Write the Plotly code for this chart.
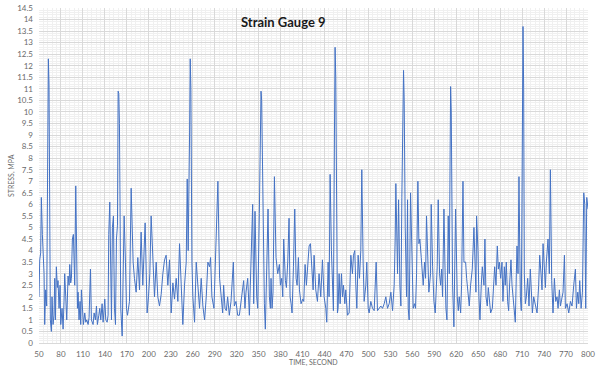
import plotly.graph_objects as go

# ---- data (time in seconds, stress in MPa) ----
time_s = [
    50, 51.0, 52.3, 53.2, 54.6, 55.5, 56.4, 56.9, 57.8, 59.1, 60.5, 61.9, 62.8, 63.7, 64.6,
    65.5, 66.9, 67.8, 69.2, 70.5, 71.5, 72.4, 73.7, 75.1, 76.0, 77.4, 78.8, 79.7, 81.5, 82.9,
    84.2, 85.1, 86.5, 87.9, 89.7, 91.1, 92.0, 93.3, 94.3, 95.6, 97.0, 98.8, 100.2, 101.6, 102.5,
    103.4, 104.7, 106.1, 107.0, 107.9, 109.3, 110.7, 112.5, 113.9, 115.2, 117.1, 118.4, 120.3,
    121.6, 123.9, 125.3, 127.1, 128.5, 129.8, 131.7, 133.0, 134.4, 136.2, 137.6, 139.9, 141.2,
    143.1, 144.4, 145.3, 146.7, 148.1, 149.0, 150.3, 151.7, 153.1, 154.5, 155.8, 157.2, 158.1,
    159.0, 159.9, 160.8, 161.7, 163.6, 164.9, 166.3, 168.1, 169.5, 170.9,
    173.6, 175.9, 177.2, 178.6, 180.4, 182.7, 185.0, 187.3, 189.5, 191.8, 195.0, 197.7, 199.6,
    201.4, 203.2, 205.5, 207.8, 210.1, 212.3, 214.6, 216.9, 219.2, 221.5, 223.7, 226.0, 228.3,
    230.6, 232.9, 235.1, 237.4, 239.7, 242.0, 244.3, 246.5, 248.8, 251.1, 252.5, 253.8, 255.7,
    256.6, 257.5, 258.9, 260.2, 262.5, 264.8, 267.1, 269.3, 271.6, 273.9, 276.2, 278.5, 280.7,
    283.0, 284.4, 286.2, 289.0, 290.8, 292.1, 294.4, 296.7, 299.0,
    300.9, 302.2, 304.1, 305.9, 307.7, 310.0, 312.3, 315.5, 316.8, 319.1, 321.4, 323.7, 326.0,
    328.2, 329.6, 331.4, 332.8, 335.1, 337.4, 338.7, 340.6, 341.9, 343.3, 345.1, 347.4, 348.8,
    351.0, 352.4, 353.3, 354.2, 355.6, 357.0, 357.9, 359.2, 361.1, 362.9, 364.7, 366.1, 367.0,
    368.4, 369.7, 371.6, 373.8, 376.1, 378.4, 379.8, 381.6, 383.0, 384.3, 385.2, 386.6, 388.0,
    389.8, 391.6, 393.0, 394.4, 395.7, 397.6, 399.4, 401.2, 402.6, 404.4, 405.8, 408.0, 410.3,
    411.7, 413.5, 415.3, 417.2, 419.0, 420.8, 422.6, 424.5,
    425.8, 428.1, 430.4, 432.6, 434.9, 437.2, 439.5, 441.8, 443.1, 445.0, 446.3, 447.7, 449.5,
    450.9, 452.2, 453.6, 454.5, 455.4, 456.4, 457.7, 458.6, 460.0, 461.4, 463.2, 464.6, 465.9,
    467.8, 469.1, 471.4, 473.7, 476.0, 478.2, 479.6, 481.4, 482.8, 484.2, 486.0, 487.8, 489.6,
    491.0, 492.8, 494.2, 496.5, 497.8, 499.7, 501.0, 503.3, 505.6, 507.9, 510.6, 512.4, 514.7,
    517.0, 519.3, 521.6, 523.8, 526.1, 528.4, 530.7, 533.0, 535.2, 536.6, 537.5, 539.8, 541.2,
    543.0, 544.4, 545.7, 547.1, 548.0, 548.9, 550.3, 552.1,
    553.5, 554.4, 555.7, 557.6, 559.8, 561.2, 563.0, 564.4, 565.8, 567.6, 569.0, 570.3, 572.2,
    573.5, 574.9, 576.7, 578.1, 579.4, 581.3, 582.6, 584.9, 585.8, 587.7, 589.5, 591.3, 592.7,
    594.0, 595.4, 597.2, 598.6, 600.0, 601.3, 603.2, 604.5, 605.9, 607.3, 609.1, 610.5, 611.8,
    612.3, 613.2, 614.1, 615.0, 616.8, 619.1, 621.4, 622.8, 624.1, 626.0, 627.3, 629.2, 630.5,
    632.8, 634.2, 636.0, 637.8, 639.6, 641.9, 644.2, 645.6, 646.9, 647.8, 649.7, 651.0, 652.4,
    654.2, 655.6, 657.9, 659.2, 660.6, 662.4, 663.8, 665.6, 667.0, 669.3, 670.6, 672.5, 674.3,
    676.1, 677.5, 678.9, 680.7,
    682.5, 683.8, 685.7, 687.0, 688.4, 690.2, 691.6, 693.0, 694.8, 696.2, 697.5, 699.4, 700.7,
    702.1, 703.0, 704.4, 705.7, 706.6, 707.6, 708.9, 710.3, 711.2, 712.1, 713.0, 714.4, 715.8,
    717.6, 719.4, 721.2, 722.6, 724.0, 725.8, 728.1, 730.4, 732.6, 734.0, 735.8, 737.2, 738.6,
    740.4, 741.8, 743.1, 745.4, 747.2, 748.6, 750.4, 752.2, 754.1, 755.9, 757.7, 759.1, 760.9,
    762.3, 764.1, 765.9, 767.8, 769.1, 771.4, 773.7, 776.0, 778.2, 780.5, 782.8, 784.2, 786.0,
    787.4, 788.7, 790.6, 792.4, 794.2, 795.6, 796.9, 798.3, 800,
]

stress_mpa = [
    2.0, 3.6, 3.9, 6.3, 4.7, 4.0, 4.1, 3.0, 0.8, 2.3, 1.6, 8.0, 12.3, 11.2, 4.0,
    1.0, 0.5, 2.0, 0.8, 1.2, 2.8, 1.0, 3.3, 2.4, 2.7, 1.5, 2.5, 0.8, 1.5, 0.6,
    1.8, 3.0, 2.0, 1.0, 2.9, 2.5, 3.4, 2.6, 2.8, 4.5, 4.7, 2.5, 6.8, 3.0, 1.5,
    2.2, 1.0, 1.8, 0.8, 2.3, 1.2, 0.8, 1.3, 0.9, 1.0, 0.8, 1.1, 3.2,
    1.0, 0.8, 1.3, 1.0, 1.6, 0.8, 1.2, 1.5, 1.0, 1.7, 0.9, 1.9, 1.0,
    0.9, 1.2, 4.7, 6.1, 2.0, 1.0, 5.0, 5.5, 1.5, 0.8, 4.5, 5.1, 10.9,
    10.8, 9.5, 4.0, 1.5, 0.3, 2.5, 5.5, 3.5, 1.5, 1.2,
    1.8, 6.7, 4.5, 3.5, 2.8, 2.2, 3.7, 2.3, 4.8, 2.5, 5.2, 1.3, 2.0,
    3.0, 5.5, 3.7, 2.0, 3.5, 2.0, 1.6, 2.1, 3.0, 3.6, 3.8, 2.5, 3.6,
    1.3, 2.6, 1.9, 2.8, 1.8, 4.3, 2.3, 0.8, 2.5, 3.5, 7.1, 4.0, 9.0,
    12.3, 11.0, 3.5, 2.0, 0.9, 3.5, 2.5, 1.5, 2.8, 1.6, 1.0, 2.0, 3.5,
    3.3, 3.7, 2.0, 1.5, 3.5, 5.0, 7.0, 2.8, 1.8,
    1.3, 2.5, 1.5, 1.4, 2.0, 1.2, 1.8, 3.5, 1.6, 1.8, 1.2, 1.2, 1.7,
    2.2, 2.7, 1.5, 2.2, 2.8, 1.2, 2.5, 4.8, 6.0, 1.7, 5.7, 2.0, 1.5,
    5.6, 10.0, 10.9, 10.5, 6.0, 3.5, 1.7, 0.6, 3.0, 5.8, 2.0, 1.5, 2.8,
    1.5, 2.2, 7.2, 3.7, 3.0, 3.4, 2.5, 2.8, 2.0, 4.5, 3.5, 2.7, 2.4,
    3.5, 5.4, 2.0, 1.7, 1.3, 3.3, 5.8, 2.8, 2.5, 3.7, 2.3, 1.7, 1.9,
    1.8, 3.4, 2.5, 3.6, 4.2, 4.3, 3.2, 2.3,
    3.8, 2.3, 1.8, 3.0, 2.0, 3.6, 2.0, 1.5, 0.9, 3.5, 2.0, 7.3, 4.0,
    2.0, 1.4, 9.0, 12.8, 11.5, 4.0, 1.3, 1.5, 3.0, 1.7, 3.0, 2.0, 2.5,
    1.7, 2.3, 1.2, 1.3, 3.8, 3.0, 3.8, 4.0, 2.5, 1.5, 3.8, 2.8, 4.0,
    7.5, 3.5, 1.8, 2.5, 3.5, 1.5, 1.3, 1.8, 1.5, 1.4, 3.5, 1.4, 1.5,
    1.6, 1.5, 1.7, 2.0, 1.5, 1.7, 2.2, 1.4, 2.5, 4.5, 6.9, 3.0, 6.2,
    2.5, 1.6, 6.3, 10.0, 11.8, 10.5, 5.0, 2.0,
    6.2, 1.5, 1.0, 6.5, 3.5, 1.5, 1.7, 1.5, 3.0, 7.0, 4.3, 4.5, 3.7,
    3.2, 2.5, 3.5, 2.8, 5.5, 3.0, 2.2, 3.0, 6.0, 3.3, 1.8, 1.3, 2.5,
    3.3, 6.2, 3.0, 2.5, 3.2, 2.0, 5.8, 3.5, 1.5, 1.0, 5.5, 3.0, 9.5,
    11.1, 10.0, 5.0, 2.5, 0.7, 5.8, 2.0, 1.4, 2.0, 1.3, 2.5, 7.0, 3.5,
    3.5, 2.8, 2.0, 1.6, 2.5, 3.2, 5.0, 3.0, 2.2, 5.5, 4.0, 2.0, 1.0,
    2.5, 3.3, 2.5, 4.5, 2.0, 1.6, 2.4, 1.6, 1.3, 1.5, 2.2, 3.3, 2.5,
    4.2, 3.2, 3.5, 2.8,
    3.5, 1.8, 3.3, 2.5, 3.5, 1.8, 1.4, 2.6, 3.6, 2.5, 2.0, 1.2, 0.9,
    3.0, 4.2, 3.0, 7.2, 4.5, 2.0, 1.4, 9.0, 13.7, 11.0, 3.0, 1.7, 2.0,
    2.8, 1.6, 3.2, 2.5, 1.3, 2.0, 1.7, 1.3, 2.5, 3.8, 3.0, 2.3, 4.3,
    3.0, 2.4, 3.5, 4.5, 3.0, 7.5, 2.7, 1.3, 2.8, 1.8, 2.0, 1.5, 2.3,
    1.6, 1.9, 2.2, 3.8, 1.5, 1.7, 1.3, 1.8, 1.6, 2.5, 3.2, 1.5, 2.2,
    1.7, 2.7, 1.5, 2.2, 6.5, 6.0, 1.5, 6.3, 5.8,
]

x_ticks = list(range(50, 801, 30))
y_ticks = [i * 0.5 for i in range(0, 30)]
y_tick_text = [("%g" % v) for v in y_ticks]

title_text = "Strain Gauge 9"
x_title = "TIME, SECOND"
y_title = "STRESS, MPA"

FONT = "Lato, 'Open Sans', sans-serif"
tick_font = dict(family=FONT, size=8, color="#6a6a6a")

fig = go.Figure()
fig.add_trace(go.Scatter(
    x=time_s, y=stress_mpa, mode="lines",
    line=dict(color="#4472C4", width=1),
    hoverinfo="x+y", showlegend=False,
))

fig.update_layout(
    width=600, height=374,
    margin=dict(l=39, r=12, t=8, b=31),
    paper_bgcolor="white", plot_bgcolor="white",
    xaxis=dict(
        range=[50, 800], tickmode="array", tickvals=x_ticks,
        ticktext=[str(v) for v in x_ticks],
        showgrid=True, gridcolor="#d9d9d9", gridwidth=1,
        minor=dict(dtick=6, tick0=50, showgrid=True, gridcolor="#f0f0f0", gridwidth=1),
        zeroline=False, showline=True, linecolor="#d9d9d9", linewidth=1,
        ticks="", ticklen=0, tickfont=tick_font, ticklabelstandoff=3,
        automargin=False,
    ),
    yaxis=dict(
        range=[0, 14.5], tickmode="array", tickvals=y_ticks, ticktext=y_tick_text,
        showgrid=True, gridcolor="#d9d9d9", gridwidth=1,
        minor=dict(dtick=0.1, showgrid=True, gridcolor="#f0f0f0", gridwidth=1),
        zeroline=False, showline=False,
        ticks="", ticklen=0, tickfont=tick_font, ticklabelstandoff=5,
        automargin=False,
    ),
    annotations=[
        dict(text="<b>" + title_text + "</b>", xref="paper", yref="paper",
             x=0.446, y=0.959, xanchor="center", yanchor="middle", showarrow=False,
             font=dict(family=FONT, size=13, color="#1a1a1a")),
        dict(text=x_title, xref="paper", yref="paper",
             x=0.5, y=-0.058, xanchor="center", yanchor="middle", showarrow=False,
             font=dict(family=FONT, size=7, color="#6a6a6a")),
        dict(text=y_title, xref="paper", yref="paper", textangle=-90,
             x=-0.05, y=0.5, xanchor="center", yanchor="middle", showarrow=False,
             font=dict(family=FONT, size=7, color="#6a6a6a")),
    ],
)

# remove the browser's default 8px page margin so the 600x374 figure fills the window
fig.write_html("out.html", config={"displayModeBar": False},
               post_script="document.body.style.margin='0';")
